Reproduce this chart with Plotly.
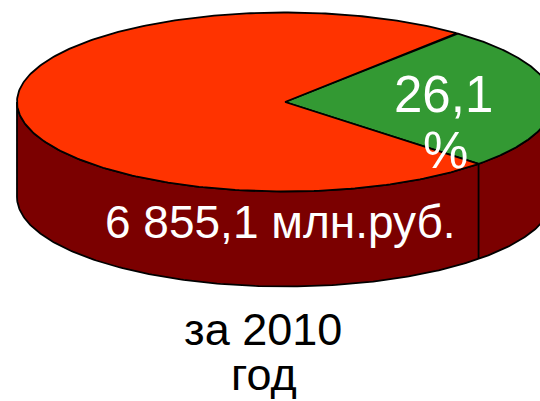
import numpy as np
import plotly.graph_objects as go

# ---- data ----
slice_labels = ["26,1<br>%", "6 855,1 млн.руб."]
slice_values = [26.1, 73.9]          # percent shares
slice_colors = ["#339933", "#FF3300"]
side_color = "#7B0000"
caption_lines = ["за 2010", "год"]

# ---- geometry (pixels of the 540x401 canvas) ----
W, H = 540, 401
CX, CY, RX, RY, DEPTH = 285, 102, 268, 89.5, 95
START = 50.2   # degrees, first slice edge; slices go clockwise
LW = 1.8

def top_pt(deg):
    t = np.radians(deg)
    return CX + RX * np.cos(t), CY - RY * np.sin(t)

fig = go.Figure()

# side wall (front half)
th = np.linspace(180, 360, 240)
tx, ty = top_pt(th)
side_x = np.concatenate([tx, tx[::-1], tx[:1]])
side_y = np.concatenate([ty, (ty + DEPTH)[::-1], ty[:1]])
fig.add_trace(go.Scatter(x=side_x, y=side_y, mode="lines", fill="toself",
                         fillcolor=side_color, line=dict(color="black", width=LW),
                         hoverinfo="skip", showlegend=False))

# slice edges
total = sum(slice_values)
edges = [START]
for v in slice_values:
    edges.append(edges[-1] - v / total * 360.0)

# vertical seams on the front side
for e in edges[:-1]:
    if np.sin(np.radians(e)) < 0:
        x0, y0 = top_pt(e)
        fig.add_trace(go.Scatter(x=[x0, x0], y=[y0, y0 + DEPTH], mode="lines",
                                 line=dict(color="black", width=LW),
                                 hoverinfo="skip", showlegend=False))

# top faces
for i, v in enumerate(slice_values):
    a = np.linspace(edges[i], edges[i + 1], 300)
    ax, ay = top_pt(a)
    px = np.concatenate([[CX], ax, [CX]])
    py = np.concatenate([[CY], ay, [CY]])
    fig.add_trace(go.Scatter(x=px, y=py, mode="lines", fill="toself",
                             fillcolor=slice_colors[i], line=dict(color="black", width=LW),
                             hoverinfo="skip", showlegend=False))

FONT = "Arial, Liberation Sans, sans-serif"
# labels
green_lines = slice_labels[0].split("<br>")
fig.add_annotation(x=443, y=94, text=green_lines[0], showarrow=False, xanchor="center", yanchor="middle",
                   font=dict(family=FONT, size=51, color="white"))
fig.add_annotation(x=445, y=150, text=green_lines[1], showarrow=False, xanchor="center", yanchor="middle",
                   font=dict(family=FONT, size=51, color="white"))
fig.add_annotation(x=280, y=222, text=slice_labels[1], showarrow=False, xanchor="center", yanchor="middle",
                   font=dict(family=FONT, size=46, color="white"))
# caption
fig.add_annotation(x=263, y=329, text=caption_lines[0], showarrow=False, xanchor="center", yanchor="middle",
                   font=dict(family=FONT, size=45, color="black"))
fig.add_annotation(x=264, y=374, text=caption_lines[1], showarrow=False, xanchor="center", yanchor="middle",
                   font=dict(family=FONT, size=45, color="black"))

fig.update_layout(width=W, height=H, margin=dict(l=0, r=0, t=0, b=0),
                  paper_bgcolor="white", plot_bgcolor="white",
                  xaxis=dict(range=[0, W], visible=False, fixedrange=True),
                  yaxis=dict(range=[H, 0], visible=False, fixedrange=True),
                  showlegend=False)
fig.write_html("out.html", config={"displayModeBar": False},
               post_script="document.body.style.margin='0px';document.body.style.overflow='hidden';")
